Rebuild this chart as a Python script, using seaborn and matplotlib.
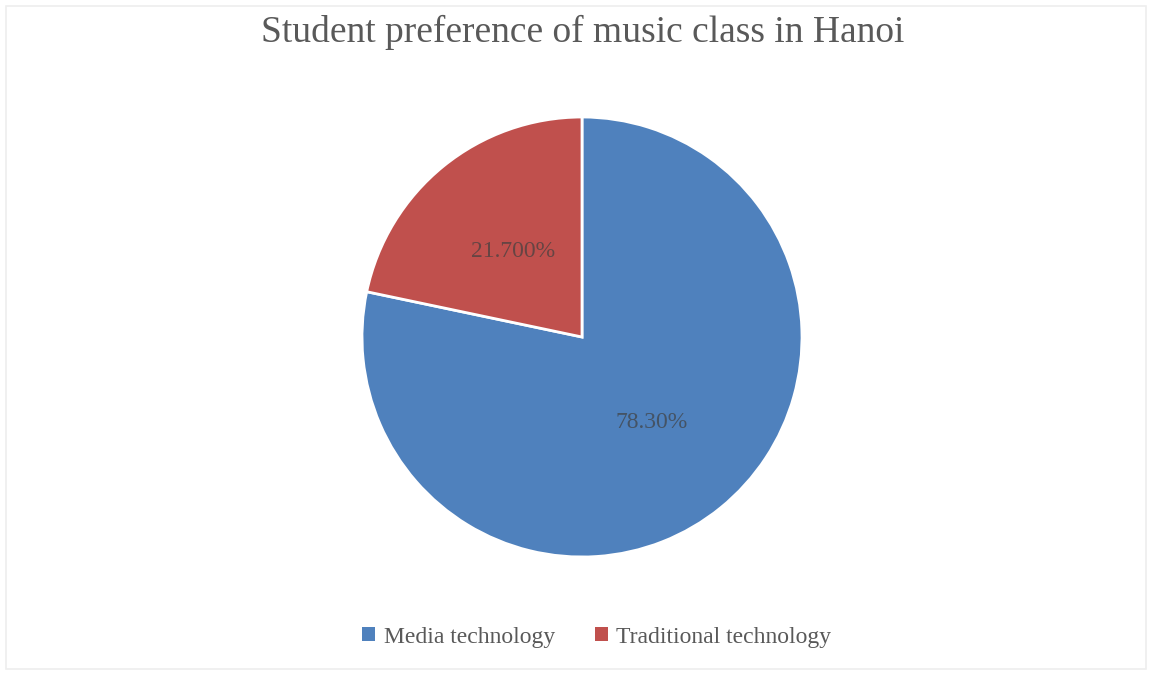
import matplotlib
matplotlib.use("Agg")
import matplotlib.pyplot as plt
import seaborn as sns
import numpy as np
from matplotlib.patches import Rectangle

# data
categories = ["Media technology", "Traditional technology"]
shares = [78.30, 21.70]
pct_labels = ["78.30%", "21.700%"]
colors = ["#4F81BD", "#C0504D"]

sns.set_theme(style="white")
plt.rcParams['font.family'] = ['Liberation Serif', 'DejaVu Serif']

fig = plt.figure(figsize=(11.53, 6.76), dpi=100)

# faint outer border like the office chart frame
fig.patches.append(Rectangle((6 / 1153, 7 / 676), 1140 / 1153, 663 / 676,
                             transform=fig.transFigure, fill=False,
                             edgecolor="#eeeeee", linewidth=1.2))

# pie centre ~ (582, 337) px, radius ~ 220 px
ax = fig.add_axes([(582 - 220) / 1153, (676 - 557) / 676, 440 / 1153, 440 / 676])
wedges, _ = ax.pie(shares, colors=colors, startangle=90, counterclock=False,
                   wedgeprops=dict(edgecolor="white", linewidth=2))
for w in wedges:
    w.set_clip_on(False)

# percent labels at half radius
ang = 90.0
for val, lab in zip(shares, pct_labels):
    span = val / sum(shares) * 360
    mid = np.deg2rad(ang - span / 2)
    ax.text(0.5 * np.cos(mid), 0.5 * np.sin(mid), lab, ha="center", va="center",
            fontsize=17, color="#404040", alpha=0.7)
    ang -= span

ax.set_xlim(-1, 1)
ax.set_ylim(-1, 1)
ax.set_aspect("equal")
ax.axis("off")

fig.text(583 / 1153, 1 - 32 / 676, "Student preference of music class in Hanoi",
         ha="center", va="center", fontsize=27, color="#595959")

handles = [Rectangle((0, 0), 1, 1, facecolor=c, edgecolor="none") for c in colors]
fig.legend(handles, categories, loc="center", bbox_to_anchor=(597 / 1153, 1 - 637 / 676),
           ncol=2, frameon=False, fontsize=17, handlelength=0.55, handleheight=0.55,
           handletextpad=0.35, columnspacing=1.7, labelcolor="#595959")

fig.savefig("out.png", dpi=100)
